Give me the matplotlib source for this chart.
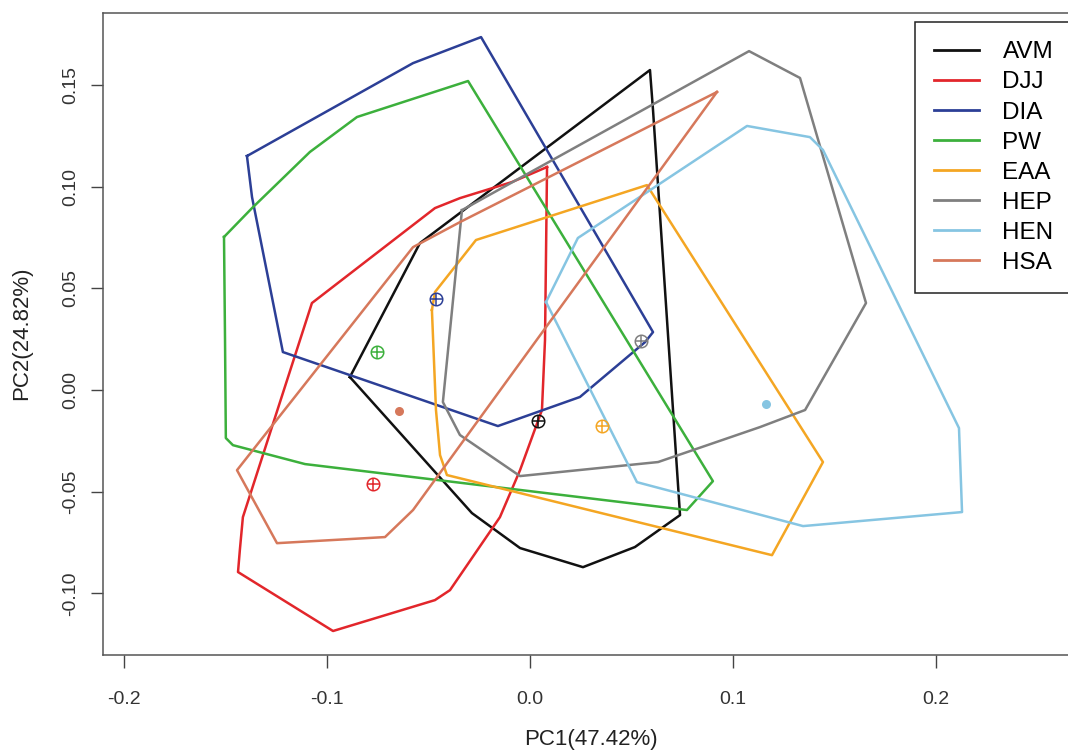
import matplotlib
matplotlib.use('Agg')
import matplotlib.pyplot as plt

plt.rcParams['font.family'] = ['Liberation Sans', 'DejaVu Sans']

groups = ['AVM', 'DJJ', 'DIA', 'PW', 'EAA', 'HEP', 'HEN', 'HSA']
colors = ['#111111', '#e2262b', '#2c3f96', '#3cb03c', '#f4a623', '#7f7f7f', '#86c5e2', '#d6785b']

# hull vertices (PC1, PC2)
avm_x = [-0.0887, -0.0542, 0.0591, 0.0606, 0.0739, 0.0517, 0.0261, -0.0049, -0.0286]
avm_y = [0.0064, 0.0723, 0.1574, 0.1377, -0.0615, -0.0772, -0.0871, -0.0777, -0.0605]

djj_x = [0.0084, 0.0074, 0.0059, -0.0049, -0.0148, -0.0394, -0.0468, -0.0970, -0.1438,
         -0.1429, -0.1414, -0.1074, -0.0468, -0.0345, -0.0089]
djj_y = [0.1097, 0.0246, -0.0098, -0.0394, -0.0625, -0.0984, -0.1033, -0.1185, -0.0895,
         -0.0787, -0.0625, 0.0428, 0.0895, 0.0944, 0.1023]

dia_x = [-0.1394, -0.0576, -0.0241, 0.0606, 0.0567, 0.0246, -0.0158, -0.1217, -0.1369]
dia_y = [0.1151, 0.1608, 0.1736, 0.0285, 0.0236, -0.0034, -0.0177, 0.0187, 0.0949]

pw_x = [-0.1507, -0.1369, -0.1084, -0.0852, -0.0305, 0.0901, 0.0773, -0.1108, -0.1463,
        -0.1498, -0.1502]
pw_y = [0.0753, 0.0895, 0.1171, 0.1343, 0.1520, -0.0448, -0.0590, -0.0364, -0.0271,
        -0.0236, 0.0246]

eaa_x = [-0.0483, -0.0468, -0.0266, 0.0576, 0.1443, 0.1192, -0.0409, -0.0443, -0.0463]
eaa_y = [0.0394, 0.0482, 0.0738, 0.1008, -0.0354, -0.0812, -0.0418, -0.0320, -0.0098]

hep_x = [-0.0335, 0.1079, 0.1330, 0.1655, 0.1355, 0.1133, 0.0631, -0.0049, -0.0345, -0.0429]
hep_y = [0.0885, 0.1667, 0.1535, 0.0428, -0.0098, -0.0182, -0.0354, -0.0423, -0.0221, -0.0059]

hen_x = [0.0079, 0.0236, 0.1069, 0.1379, 0.1443, 0.2113, 0.2128, 0.1345, 0.0527]
hen_y = [0.0433, 0.0748, 0.1299, 0.1244, 0.1181, -0.0187, -0.0600, -0.0669, -0.0453]

hsa_x = [0.0921, -0.0345, -0.0576, -0.1443, -0.1246, -0.0714, -0.0576]
hsa_y = [0.1466, 0.0826, 0.0703, -0.0394, -0.0753, -0.0723, -0.0590]

# group centres
cent_x = [0.0039, -0.0773, -0.0463, -0.0754, 0.0355, 0.0547, 0.1163, -0.0645]
cent_y = [-0.0152, -0.0462, 0.0448, 0.0187, -0.0177, 0.0241, -0.0069, -0.0103]
cent_open = [True, True, True, True, True, True, False, False]

hulls_x = [avm_x, djj_x, dia_x, pw_x, eaa_x, hep_x, hen_x, hsa_x]
hulls_y = [avm_y, djj_y, dia_y, pw_y, eaa_y, hep_y, hen_y, hsa_y]

W, H = 1068, 756
fig = plt.figure(figsize=(W / 100, H / 100), dpi=100)
ax = fig.add_axes([103 / W, (H - 655) / H, 977 / W, 642.3 / H])

for name, c, xs, ys in zip(groups, colors, hulls_x, hulls_y):
    ax.plot(xs + xs[:1], ys + ys[:1], color=c, lw=1.8, label=name)

for c, x, y, op in zip(colors, cent_x, cent_y, cent_open):
    if op:
        ax.plot(x, y, 'o', ms=9, mfc='none', mec=c, mew=1.1)
        ax.plot(x, y, '+', ms=9, color=c, mew=1.1)
    else:
        ax.plot(x, y, 'o', ms=6.5, color=c, mec='none')

ax.set_xlim(-0.2103, 0.2709)
ax.set_ylim(-0.1303, 0.1856)
ax.set_xticks([-0.2, -0.1, 0.0, 0.1, 0.2])
ax.set_xticklabels(['-0.2', '-0.1', '0.0', '0.1', '0.2'])
ax.set_yticks([-0.10, -0.05, 0.0, 0.05, 0.10, 0.15])
ax.set_yticklabels(['-0.10', '-0.05', '0.00', '0.05', '0.10', '0.15'], rotation=90, va='center')
ax.tick_params(axis='both', length=9, width=1, color='#444444', labelcolor='#333333', labelsize=14)
ax.tick_params(axis='x', pad=17)
ax.tick_params(axis='y', pad=8)
for s in ax.spines.values():
    s.set_color('#555555')
    s.set_linewidth(1.1)

ax.set_xlabel('PC1(47.42%)', fontsize=16, color='#222222')
ax.set_ylabel('PC2(24.82%)', fontsize=16, color='#222222')
ax.xaxis.set_label_coords(0.4995, (655 - 740) / 642.3)
ax.xaxis.label.set_va('center')
ax.yaxis.set_label_coords((22 - 103) / 977, 0.501)
ax.yaxis.label.set_va('center')

leg = ax.legend(loc='upper left', bbox_to_anchor=(915 / W, 1 - 22 / H),
                bbox_transform=fig.transFigure, borderaxespad=0, fontsize=17.5,
                frameon=True, fancybox=False, framealpha=1, labelspacing=0.33,
                handlelength=1.85, handletextpad=0.95, borderpad=0.8)
leg.get_frame().set_edgecolor('#222222')
leg.get_frame().set_linewidth(1.1)
for ln in leg.get_lines():
    ln.set_linewidth(2)

fig.savefig('out.png', dpi=100)
